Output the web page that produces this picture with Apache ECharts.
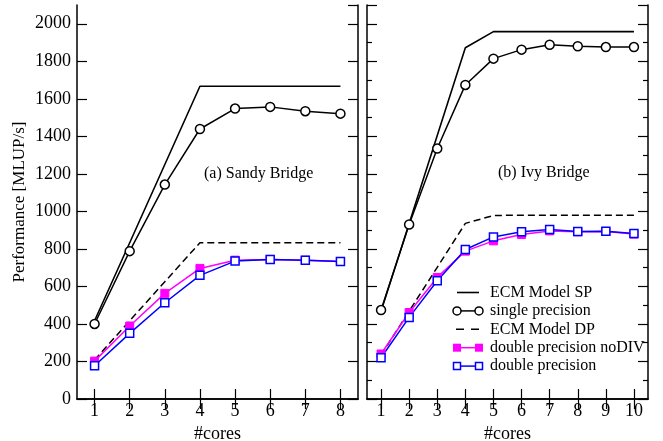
<!DOCTYPE html>
<html><head><meta charset="utf-8">
<script src="https://cdn.jsdelivr.net/npm/echarts@6/dist/echarts.min.js"></script>
<style>html,body{margin:0;padding:0;background:#fff}#c{width:663px;height:441px}</style>
</head><body><div id="c"></div>
<script>
// ---- data ----
const coresSB = ['1','2','3','4','5','6','7','8'];
const coresIB = ['1','2','3','4','5','6','7','8','9','10'];
const yTicks = [0, 2100, 200];  // min, max, interval

const sbEcmSP   = [417, 833, 1250, 1667, 1667, 1667, 1667, 1667];
const sbSP      = [400, 788, 1143, 1439, 1548, 1557, 1534, 1521];
const sbEcmDP   = [208, 417, 625, 833, 833, 833, 833, 833];
const sbDPnoDiv = [202, 389, 563, 696, 740, 744, 740, 733];
const sbDP      = [177, 350, 513, 659, 735, 744, 740, 733];

const ibEcmSP   = [468, 936, 1404, 1872, 1958, 1958, 1958, 1958, 1958, 1958];
const ibSP      = [474, 930, 1335, 1674, 1814, 1862, 1888, 1880, 1876, 1876];
const ibEcmDP   = [234, 468, 702, 936, 978, 980, 980, 980, 980, 980];
const ibDPnoDiv = [240, 461, 648, 788, 843, 877, 896, 891, 893, 879];
const ibDP      = [220, 435, 630, 797, 864, 891, 904, 893, 894, 882];

const seriesNames = ['ECM Model SP', 'single precision', 'ECM Model DP', 'double precision noDIV', 'double precision'];
const panelLabels = ['(a) Sandy Bridge', '(b) Ivy Bridge'];
const axisNames = ['#cores', 'Performance [MLUP/s]'];

// ---- chart ----
const FONT = 'Liberation Serif';
const chart = echarts.init(document.getElementById('c'), null, {renderer: 'canvas'});
const lineAx = {show: true, lineStyle: {color: '#000', width: 1.5}};
function xAx(grid, data, pos, withLabel) {
  return {
    gridIndex: grid, type: 'category', data: data, boundaryGap: true, position: pos,
    axisLine: lineAx,
    axisTick: {show: true, inside: true, alignWithLabel: true, interval: 0, length: 10, lineStyle: {color: '#000', width: 1.2}},
    axisLabel: {show: withLabel, interval: 0, color: '#000', fontFamily: FONT, fontSize: 18, margin: 3},
    splitLine: {show: false},
    name: withLabel ? axisNames[0] : '', nameLocation: 'middle', nameGap: 21,
    nameTextStyle: {color: '#000', fontFamily: FONT, fontSize: 18}
  };
}
function yAx(grid, pos, withLabel, minor) {
  return {
    gridIndex: grid, type: 'value', min: yTicks[0], max: yTicks[1], interval: yTicks[2], position: pos,
    axisLine: lineAx,
    axisTick: {show: true, inside: true, length: 10, lineStyle: {color: '#000', width: 1.2}},
    minorTick: {show: minor, splitNumber: 2, length: 5, lineStyle: {color: '#000', width: 1.2}},
    axisLabel: {show: withLabel, color: '#000', fontFamily: FONT, fontSize: 18, margin: 6, showMaxLabel: false,
                formatter: v => String(v)},
    splitLine: {show: false}, minorSplitLine: {show: false},
    name: (withLabel ? axisNames[1] : ''), nameLocation: 'middle', nameGap: 49, nameRotate: 90,
    nameTextStyle: {color: '#000', fontFamily: FONT, fontSize: 17}
  };
}
function mkSeries(xi, yi, d) {
  return [
    {name: seriesNames[0], type: 'line', xAxisIndex: xi, yAxisIndex: yi, data: d[0], symbol: 'none',
     lineStyle: {color: '#000', width: 1.6}},
    {name: seriesNames[1], type: 'line', xAxisIndex: xi, yAxisIndex: yi, data: d[1], symbol: 'circle', symbolSize: 9,
     showAllSymbol: true, lineStyle: {color: '#000', width: 1.5}, itemStyle: {color: '#fff', borderColor: '#000', borderWidth: 1.5}},
    {name: seriesNames[2], type: 'line', xAxisIndex: xi, yAxisIndex: yi, data: d[2], symbol: 'none',
     lineStyle: {color: '#000', width: 1.5, type: [7, 4]}},
    {name: seriesNames[3], type: 'line', xAxisIndex: xi, yAxisIndex: yi, data: d[3], symbol: 'rect', symbolSize: 8,
     showAllSymbol: true, lineStyle: {color: '#ff00ff', width: 1.5}, itemStyle: {color: '#ff00ff', borderColor: '#ff00ff', borderWidth: 1}},
    {name: seriesNames[4], type: 'line', xAxisIndex: xi, yAxisIndex: yi, data: d[4], symbol: 'rect', symbolSize: 8,
     showAllSymbol: true, lineStyle: {color: '#0000ff', width: 1.5}, itemStyle: {color: '#fff', borderColor: '#0000ff', borderWidth: 1.5}}
  ];
}

// legend drawn as graphic
const legX0 = 457, legX1 = 479, legTextX = 490, legY0 = 292.5, legDy = 18.4;
const legendG = [];
function legRow(i) {
  const y = legY0 + i * legDy;
  const g = [];
  if (i === 0) g.push({type: 'line', shape: {x1: legX0, y1: y, x2: legX1, y2: y}, style: {stroke: '#000', lineWidth: 1.6}});
  if (i === 1) {
    g.push({type: 'line', shape: {x1: legX0, y1: y, x2: legX1, y2: y}, style: {stroke: '#000', lineWidth: 1.5}});
    [legX0, legX1].forEach(cx => g.push({type: 'circle', shape: {cx: cx, cy: y, r: 4}, style: {fill: '#fff', stroke: '#000', lineWidth: 1.5}}));
  }
  if (i === 2) g.push({type: 'line', shape: {x1: legX0 - 1, y1: y, x2: legX1 + 1, y2: y}, style: {stroke: '#000', lineWidth: 1.5, lineDash: [8, 7]}});
  if (i === 3) {
    g.push({type: 'line', shape: {x1: legX0, y1: y, x2: legX1, y2: y}, style: {stroke: '#ff00ff', lineWidth: 1.5}});
    [legX0, legX1].forEach(cx => g.push({type: 'rect', shape: {x: cx - 4, y: y - 4, width: 8, height: 8}, style: {fill: '#ff00ff'}}));
  }
  if (i === 4) {
    g.push({type: 'line', shape: {x1: legX0, y1: y, x2: legX1, y2: y}, style: {stroke: '#0000ff', lineWidth: 1.5}});
    [legX0, legX1].forEach(cx => g.push({type: 'rect', shape: {x: cx - 3.5, y: y - 3.5, width: 7, height: 7}, style: {fill: '#fff', stroke: '#0000ff', lineWidth: 1.5}}));
  }
  g.push({type: 'text', style: {x: legTextX, y: y, text: seriesNames[i], fill: '#000', font: '16px "' + FONT + '"', verticalAlign: 'middle'}});
  return g;
}
for (let i = 0; i < 5; i++) legendG.push(...legRow(i));
legendG.push({type: 'text', style: {x: 204, y: 174, text: panelLabels[0], fill: '#000', font: '16px "' + FONT + '"', verticalAlign: 'middle'}});
legendG.push({type: 'text', style: {x: 498, y: 173, text: panelLabels[1], fill: '#000', font: '16px "' + FONT + '"', verticalAlign: 'middle'}});

chart.setOption({
  animation: false,
  backgroundColor: '#fff',
  grid: [
    {left: 77, top: 5, width: 281, height: 394, containLabel: false, outerBoundsMode: 'none'},
    {left: 367, top: 5, width: 281, height: 394, containLabel: false, outerBoundsMode: 'none'}
  ],
  xAxis: [xAx(0, coresSB, 'bottom', true), xAx(0, coresSB, 'top', false), xAx(1, coresIB, 'bottom', true), xAx(1, coresIB, 'top', false)],
  yAxis: [yAx(0, 'left', true, false), yAx(0, 'right', false, false), yAx(1, 'left', false, true), yAx(1, 'right', false, true)],
  series: [
    ...mkSeries(0, 0, [sbEcmSP, sbSP, sbEcmDP, sbDPnoDiv, sbDP]),
    ...mkSeries(2, 2, [ibEcmSP, ibSP, ibEcmDP, ibDPnoDiv, ibDP])
  ],
  graphic: legendG
});
</script></body></html>
